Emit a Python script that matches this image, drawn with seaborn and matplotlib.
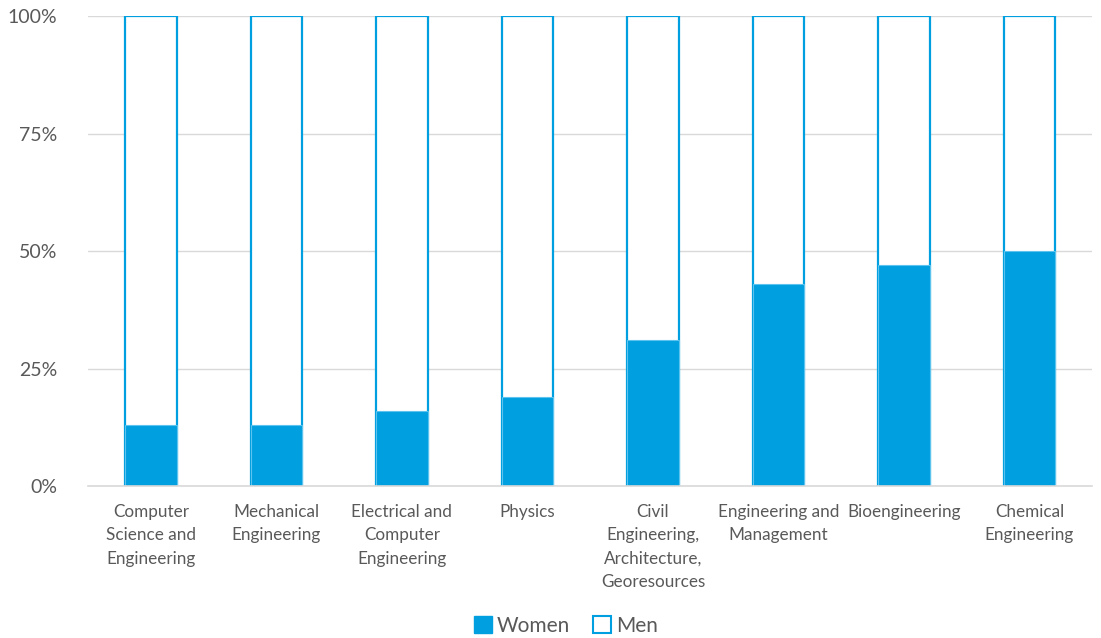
import matplotlib
matplotlib.use("Agg")
import matplotlib.pyplot as plt
import matplotlib.patches as mpatches
from matplotlib.ticker import PercentFormatter
import pandas as pd
import seaborn as sns

# Share of women per department (percent); men make up the rest
departments = [
    "Computer\nScience and\nEngineering",
    "Mechanical\nEngineering",
    "Electrical and\nComputer\nEngineering",
    "Physics",
    "Civil\nEngineering,\nArchitecture,\nGeoresources",
    "Engineering and\nManagement",
    "Bioengineering",
    "Chemical\nEngineering",
]
women_pct = [13, 13, 16, 19, 31, 43, 47, 50]
men_pct = [100 - w for w in women_pct]

BLUE = "#009FDF"
TEXT = "#595959"

sns.set_style("white")
plt.rcParams["font.family"] = ["Lato", "DejaVu Sans"]

df = pd.DataFrame({"department": departments,
                   "women": women_pct,
                   "total": [w + m for w, m in zip(women_pct, men_pct)]})

fig = plt.figure(figsize=(11.01, 6.38), dpi=100)
ax = fig.add_axes([0.08, 0.238, 0.912, 0.737])

# men: outlined full-height bars, women drawn on top as filled bars
sns.barplot(data=df, x="department", y="total", color="white",
            edgecolor=BLUE, linewidth=1.6, width=0.41, ax=ax)
sns.barplot(data=df, x="department", y="women", color=BLUE,
            edgecolor="#5cc3ee", linewidth=0.8, saturation=1, width=0.41, ax=ax)

ax.set_ylim(0, 100)
ax.set_xlim(-0.5, len(departments) - 0.5)
ax.set_yticks([0, 25, 50, 75, 100])
ax.yaxis.set_major_formatter(PercentFormatter(decimals=0))
ax.grid(axis="y", color="#d9d9d9", linewidth=1)
ax.set_axisbelow(True)
ax.set_xlabel("")
ax.set_ylabel("")
for side in ["top", "right", "left"]:
    ax.spines[side].set_visible(False)
ax.spines["bottom"].set_color("#d9d9d9")
ax.spines["bottom"].set_linewidth(1.2)
ax.tick_params(axis="y", length=0, labelsize=14, labelcolor=TEXT, pad=22)
ax.tick_params(axis="x", length=0, labelsize=12.3, labelcolor=TEXT, pad=13)
for lbl in ax.get_xticklabels():
    lbl.set_linespacing(1.55)

handles = [mpatches.Patch(facecolor=BLUE, edgecolor=BLUE, label="Women"),
           mpatches.Patch(facecolor="white", edgecolor=BLUE, linewidth=1.5, label="Men")]
fig.legend(handles=handles, loc="lower center", ncol=2, frameon=False,
           bbox_to_anchor=(0.514, -0.026), fontsize=15, labelcolor=TEXT,
           handlelength=0.85, handleheight=0.85, handletextpad=0.25, columnspacing=1.1)

fig.savefig("out.png", dpi=100)
